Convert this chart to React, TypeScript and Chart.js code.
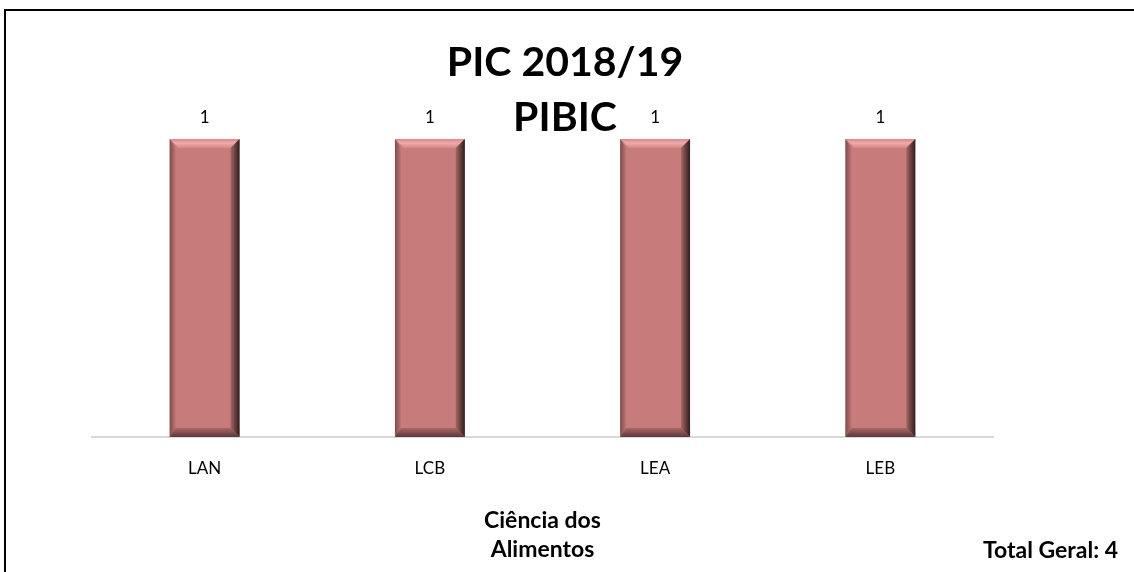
import { useEffect, useRef } from 'react';
import { Chart, registerables } from 'chart.js';

Chart.register(...registerables);

const categories = ['LAN', 'LCB', 'LEA', 'LEB'];
const values = [1, 1, 1, 1];
const titleLines = ['PIC 2018/19', 'PIBIC'];
const axisTitleLines = ['Ciência dos', 'Alimentos'];
const totalLabel = 'Total Geral: 4';

const FONT = 'Lato, "Noto Sans", sans-serif';

const bevelPlugin = {
  id: 'bevel',
  afterDatasetsDraw(chart: any) {
    const ctx = chart.ctx;
    const meta = chart.getDatasetMeta(0);
    meta.data.forEach((bar: any) => {
      const { x, y, base, width } = bar.getProps(['x', 'y', 'base', 'width'], true);
      const l = x - width / 2;
      const r = x + width / 2;
      const t = Math.min(y, base);
      const b = Math.max(y, base);
      const bv = 9;
      ctx.save();
      // top bevel
      let g = ctx.createLinearGradient(0, t, 0, t + bv);
      g.addColorStop(0, '#d38a8a');
      g.addColorStop(0.45, '#f2a9a9');
      g.addColorStop(1, '#d48989');
      ctx.fillStyle = g;
      ctx.beginPath();
      ctx.moveTo(l, t); ctx.lineTo(r, t); ctx.lineTo(r - bv, t + bv); ctx.lineTo(l + bv, t + bv); ctx.closePath();
      ctx.fill();
      // left bevel
      g = ctx.createLinearGradient(l, 0, l + 6, 0);
      g.addColorStop(0, '#7e4c4c');
      g.addColorStop(1, '#c07676');
      ctx.fillStyle = g;
      ctx.beginPath();
      ctx.moveTo(l, t); ctx.lineTo(l + 6, t + bv); ctx.lineTo(l + 6, b - bv); ctx.lineTo(l, b); ctx.closePath();
      ctx.fill();
      // right bevel
      g = ctx.createLinearGradient(r - bv, 0, r, 0);
      g.addColorStop(0, '#a56565');
      g.addColorStop(0.6, '#5e3a3a');
      g.addColorStop(1, '#2e1d1d');
      ctx.fillStyle = g;
      ctx.beginPath();
      ctx.moveTo(r, t); ctx.lineTo(r - bv, t + bv); ctx.lineTo(r - bv, b - bv); ctx.lineTo(r, b); ctx.closePath();
      ctx.fill();
      // bottom bevel
      g = ctx.createLinearGradient(0, b - bv, 0, b);
      g.addColorStop(0, '#a86767');
      g.addColorStop(1, '#5a3838');
      ctx.fillStyle = g;
      ctx.beginPath();
      ctx.moveTo(l, b); ctx.lineTo(l + 6, b - bv); ctx.lineTo(r - bv, b - bv); ctx.lineTo(r, b); ctx.closePath();
      ctx.fill();
      ctx.restore();
    });
  },
};

const labelsPlugin = {
  id: 'valueLabels',
  afterDatasetsDraw(chart: any) {
    const ctx = chart.ctx;
    const meta = chart.getDatasetMeta(0);
    const ds = chart.data.datasets[0];
    ctx.save();
    ctx.font = `17px ${FONT}`;
    ctx.fillStyle = '#000';
    ctx.textAlign = 'center';
    ctx.textBaseline = 'alphabetic';
    meta.data.forEach((bar: any, i: number) => {
      const { x, y } = bar.getProps(['x', 'y'], true);
      ctx.fillText(String(ds.data[i]), x, y - 16);
    });
    ctx.restore();
  },
};

const overlayTextPlugin = {
  id: 'overlayText',
  afterDraw(chart: any) {
    const ctx = chart.ctx;
    ctx.save();
    ctx.fillStyle = '#000';
    ctx.textAlign = 'center';
    ctx.textBaseline = 'alphabetic';
    ctx.font = `bold 41px ${FONT}`;
    const cx = chart.width / 2 - 2;
    ctx.fillText(titleLines[0], cx, 76);
    ctx.fillText(titleLines[1], cx, 131);
    ctx.font = `bold 23px ${FONT}`;
    ctx.textAlign = 'right';
    ctx.fillText(totalLabel, 1118, 558);
    ctx.restore();
  },
};

export default function App() {
  const ref = useRef<HTMLCanvasElement | null>(null);
  useEffect(() => {
    if (!ref.current) return;
    const chart = new Chart(ref.current, {
      type: 'bar',
      data: {
        labels: categories,
        datasets: [
          {
            data: values,
            backgroundColor: '#c87b7b',
            borderWidth: 0,
            categoryPercentage: 1,
            barPercentage: 0.31,
          },
        ],
      },
      options: {
        responsive: false,
        animation: false,
        layout: { padding: { left: 92, right: 141, top: 139, bottom: 0 } },
        plugins: {
          legend: { display: false },
          title: { display: false },
          tooltip: { enabled: false },
        },
        scales: {
          x: {
            grid: { display: false, drawTicks: false },
            border: { display: true, color: '#d9d9d9', width: 2 },
            ticks: { color: '#000', font: { family: FONT, size: 17 }, padding: 21 },
            title: {
              display: true,
              text: axisTitleLines,
              color: '#000',
              font: { family: FONT, size: 23, weight: 'bold', lineHeight: 1.3 },
              padding: { top: 0, bottom: 7 },
            },
            afterFit: (scale: any) => {
              scale.height = 135;
            },
          },
          y: {
            display: false,
            min: 0,
            max: 1,
          },
        },
      },
      plugins: [bevelPlugin, labelsPlugin, overlayTextPlugin],
    } as any);
    return () => chart.destroy();
  }, []);

  return (
    <div style={{ position: 'fixed', left: 0, top: 0, width: 1134, height: 572, background: '#fff', overflow: 'hidden' }}>
      <canvas ref={ref} width={1134} height={572} style={{ position: 'absolute', left: 0, top: 0 }} />
      <div
        style={{
          position: 'absolute',
          left: 4,
          top: 9,
          right: -10,
          bottom: -10,
          borderTop: '2px solid #000',
          borderLeft: '2px solid #000',
          pointerEvents: 'none',
        }}
      />
    </div>
  );
}
